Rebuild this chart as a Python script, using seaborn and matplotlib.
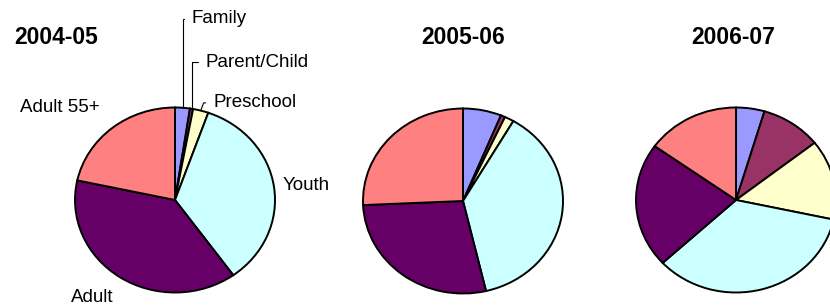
import seaborn as sns
import matplotlib
matplotlib.use("Agg")
import matplotlib.pyplot as plt
import numpy as np

# data (share of participants, %)
categories = ['Family', 'Parent/Child', 'Preschool', 'Youth', 'Adult', 'Adult 55+']
years = ['2004-05', '2005-06', '2006-07']
share_0405 = [2.4, 0.5, 2.5, 34.7, 38.3, 21.6]
share_0506 = [6.2, 0.7, 1.5, 37.9, 28.0, 25.7]
share_0607 = [4.6, 9.8, 14.0, 34.7, 21.8, 15.1]
colors = ['#9999FF', '#993366', '#FFFFCC', '#CCFFFF', '#660066', '#FF8080']

sns.set_style("white")
plt.rcParams['font.family'] = ['Liberation Sans', 'DejaVu Sans']
plt.rcParams['text.color'] = 'black'

W, H = 830, 307
fig = plt.figure(figsize=(W / 100, H / 100), dpi=100)

def px_axes(cx, cy, rx=100, ry=92.5):
    # axes box = pie ellipse, given in pixels from top-left
    return fig.add_axes([(cx - rx) / W, (H - cy - ry) / H, 2 * rx / W, 2 * ry / H])

centers = [(175, 200), (463, 201), (736, 200)]
title_x = [56, 463, 733]
all_shares = [share_0405, share_0506, share_0607]

for i, (vals, (cx, cy)) in enumerate(zip(all_shares, centers)):
    ax = px_axes(cx, cy)
    ax.pie(vals, colors=colors, startangle=90, counterclock=False,
           wedgeprops=dict(edgecolor='black', linewidth=1.4))
    ax.set_aspect('auto')
    ax.set_xlim(-1, 1)
    ax.set_ylim(-1, 1)
    for w in ax.patches:
        w.set_clip_on(False)
    fig.text(title_x[i] / W, 1 - 37 / H, years[i], ha='center', va='center',
             fontsize=16.5, fontweight='bold', color='black')
    if i == 0:
        ax0 = ax

# labels on the first pie
vals = np.array(share_0405)
cum = np.cumsum(vals) - vals / 2
ang = np.deg2rad(90 - cum / vals.sum() * 360)
pts = list(zip(np.cos(ang), np.sin(ang)))

fs = 13.5
lead = {'Family': ((0.16, 1.96), 90), 'Parent/Child': ((0.30, 1.49), 90),
        'Preschool': ((0.38, 1.05), 70)}
for k, name in enumerate(categories):
    if name in lead:
        (tx, ty), angB = lead[name]
        ax0.annotate(name, xy=pts[k], xytext=(tx, ty), ha='left', va='center',
                     fontsize=fs, color='black', annotation_clip=False,
                     arrowprops=dict(arrowstyle='-', color='black', lw=0.8,
                                     shrinkA=3, shrinkB=0, relpos=(0, 0.5),
                                     connectionstyle=f'angle,angleA=0,angleB={angB},rad=0'))

ax0.text(1.08, 0.16, 'Youth', ha='left', va='center', fontsize=fs, color='black')
ax0.text(-1.15, 1.0, 'Adult 55+', ha='center', va='center', fontsize=fs, color='black')
ax0.text(-0.83, -1.05, 'Adult', ha='center', va='center', fontsize=fs, color='black')

fig.savefig('out.png', dpi=100)
